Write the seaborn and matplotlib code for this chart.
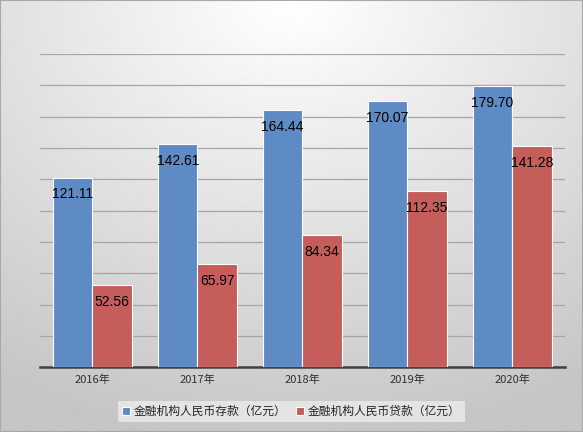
import numpy as np
import pandas as pd
import matplotlib.pyplot as plt
import matplotlib.patches as mpatches
import seaborn as sns

years = ['2016年', '2017年', '2018年', '2019年', '2020年']
deposits = [121.11, 142.61, 164.44, 170.07, 179.70]
loans = [52.56, 65.97, 84.34, 112.35, 141.28]
series_names = ['金融机构人民币存款（亿元）', '金融机构人民币贷款（亿元）']

df = pd.DataFrame({
    'year': years * 2,
    'value': deposits + loans,
    'series': [series_names[0]] * 5 + [series_names[1]] * 5,
})

sns.set_style('white')
plt.rcParams['font.family'] = ['Noto Sans CJK SC', 'DejaVu Sans']

fig = plt.figure(figsize=(5.83, 4.32), dpi=100)

# -- gradient background, light at the top, grey to the edges
bg = fig.add_axes([0, 0, 1, 1], zorder=0)
yy, xx = np.mgrid[0:1:300j, 0:1:400j]
r = np.sqrt(((xx - 0.5) * 1.1) ** 2 + (yy * 1.0) ** 2)
shade = np.clip(r / 1.05, 0, 1)
bg.imshow(1 - 0.23 * shade, cmap='gray', vmin=0, vmax=1, aspect='auto',
          extent=[0, 1, 1, 0])
bg.set_axis_off()
fig.patches.append(mpatches.Rectangle((0, 0), 1, 1, transform=fig.transFigure,
                                      fill=False, edgecolor='#A8A8A8', lw=1.5))

ax = fig.add_axes([0.0686, 0.150, 0.900, 0.725], zorder=1)
ax.set_facecolor('none')

sns.barplot(data=df, x='year', y='value', hue='series',
            palette=['#5F8BC5', '#C55E5B'], saturation=1, width=0.75, gap=0,
            edgecolor='white', linewidth=0.8, ax=ax, zorder=3)

ax.set_ylim(0, 200)
ax.set_yticks(np.arange(0, 201, 20))
ax.yaxis.grid(True, color='#A6A6A6', lw=0.9, zorder=0)
ax.set_axisbelow(True)
ax.tick_params(axis='y', left=False, labelleft=False)
ax.set_xlabel('')
ax.set_ylabel('')
for side in ['left', 'right', 'top']:
    ax.spines[side].set_visible(False)
ax.spines['bottom'].set_color('#404040')
ax.spines['bottom'].set_linewidth(1.8)

# category boundary ticks
ax.set_xticks(np.arange(-0.5, 5.0, 1.0), minor=True)
ax.tick_params(axis='x', which='minor', length=5, width=1.8, color='#404040')
ax.tick_params(axis='x', which='major', length=0, labelsize=8, colors='#303030', pad=5)
ax.set_xlim(-0.5, 4.5)

for cont in ax.containers:
    for bar in cont:
        h = bar.get_height()
        ax.text(bar.get_x() + bar.get_width() / 2, h - 10.8, f'{h:.2f}',
                ha='center', va='center', fontsize=10,
                family=['Liberation Sans', 'DejaVu Sans'], color='black', zorder=5)

ax.legend(loc='center', bbox_to_anchor=(0.5, 0.047), bbox_transform=fig.transFigure,
          ncol=2, frameon=True, facecolor='#E4E4E4', edgecolor='none', framealpha=1,
          fontsize=8.5, handlelength=0.7, handleheight=0.7, handletextpad=0.3,
          columnspacing=0.8, borderpad=0.35, fancybox=False)

fig.savefig('out.png', dpi=100)
